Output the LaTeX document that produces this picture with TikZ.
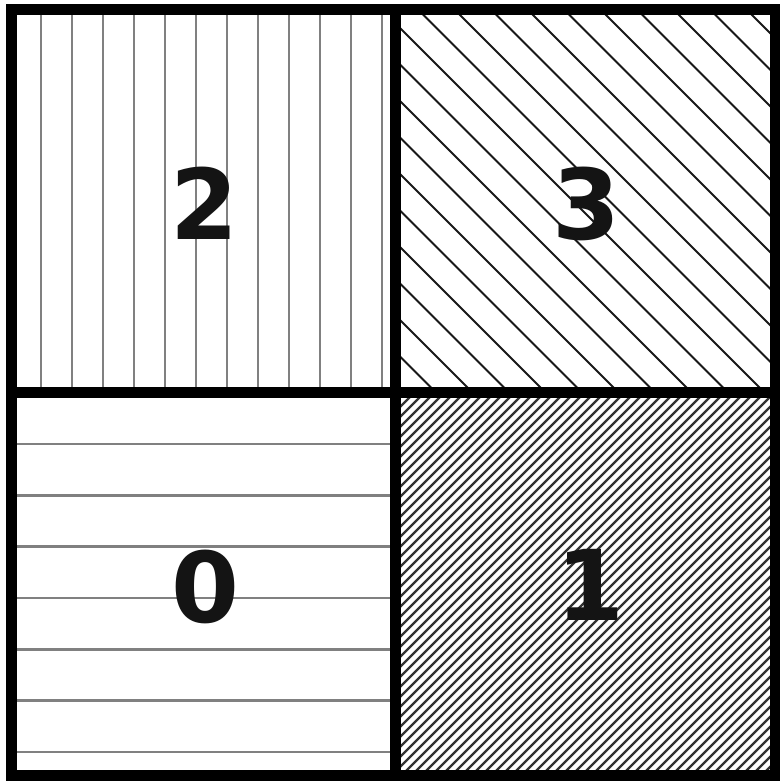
\documentclass[tikz,border=0pt]{standalone}
\usepackage{fontspec}
\setmainfont{DejaVu Sans}
\begin{document}
\begin{tikzpicture}[x=1bp,y=-1bp,
  frame/.style={line width=11bp,black,line cap=rect},
  vhatch/.style={line width=2.4bp,black!50},
  hhatch/.style={line width=2.4bp,black!50},
  shatch/.style={line width=2bp,black!90},
  dhatch/.style={line width=2.2bp,black!80},
  digit/.style={inner sep=0pt,font=\fontsize{98}{98}\selectfont\bfseries,text=black!92}]
\useasboundingbox (0,0) rectangle (780,781);
\fill[white] (0,0) rectangle (780,781);
% cell 2: vertical lines
\begin{scope}
  \clip (11,9) rectangle (395,392);
  \foreach \k in {0,...,11} \draw[vhatch] ({41+31*\k},0) -- ({41+31*\k},400);
\end{scope}
% cell 0: horizontal lines
\begin{scope}
  \clip (11,392) rectangle (395,775);
  \foreach \k in {0,...,6} \draw[hhatch] (0,{444+51.33*\k}) -- (400,{444+51.33*\k});
\end{scope}
% cell 3: sparse diagonal lines
\begin{scope}
  \clip (395,9) rectangle (775,392);
  \foreach \k in {-10,...,11} \draw[shatch] ({372+36.5*\k},0) -- ({772+36.5*\k},400);
\end{scope}
% cell 1: dense diagonal lines
\begin{scope}
  \clip (395,392) rectangle (775,775);
  \foreach \k in {-3,...,76} \draw[dhatch] ({807+10*\k-380},380) -- ({807+10*\k-790},790);
\end{scope}
% frames
\draw[frame] (11,9.5) rectangle (775,775);
\draw[frame] (395,9.5) -- (395,775);
\draw[frame] (11,392.5) -- (775,392.5);
% labels
\node[digit] (c2) at (204.5,203.5) {2};
\node[digit] (c3) at (586,203.5) {3};
\node[digit] (c0) at (205,586.5) {0};
\node[digit] (c1) at (590,585) {1};
\end{tikzpicture}
\end{document}
